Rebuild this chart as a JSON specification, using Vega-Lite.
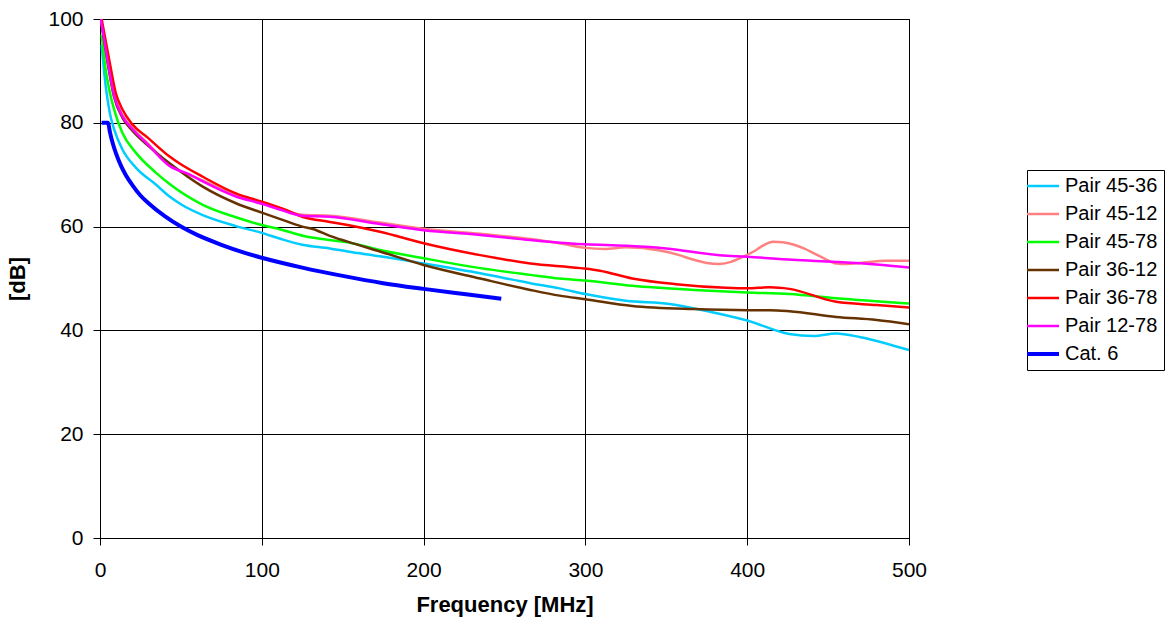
{
  "$schema": "https://vega.github.io/schema/vega-lite/v6.json",
  "width": 809,
  "height": 519,
  "autosize": {"type": "none"},
  "padding": {"left": 100, "top": 19, "right": 264, "bottom": 87},
  "background": "white",
  "config": {
    "font": "Liberation Sans",
    "view": {"stroke": "#000", "strokeWidth": 1},
    "axis": {
      "grid": true, "gridColor": "#000", "gridOpacity": 1, "gridWidth": 1,
      "domainColor": "#000", "domainWidth": 1, "tickColor": "#000", "tickSize": 7, "tickWidth": 1,
      "labelFont": "Liberation Sans", "labelFontSize": 21, "labelColor": "#000",
      "titleFont": "Liberation Sans", "titleFontSize": 22, "titleFontWeight": "bold", "titleColor": "#000"
    },
    "legend": {
      "orient": "none", "legendX": 927, "legendY": 151,
      "strokeColor": "#000", "fillColor": "#fff", "padding": 6, "cornerRadius": 0,
      "labelFont": "Liberation Sans", "labelFontSize": 20, "labelColor": "#000", "labelOffset": 12,
      "symbolType": "stroke", "symbolSize": 1024, "symbolStrokeWidth": 2.5, "rowPadding": 8
    }
  },
  "data": {"values": [
    {"series": "Pair 45-36", "f": 1, "dB": 95}, {"series": "Pair 45-36", "f": 3.5, "dB": 87.1}, {"series": "Pair 45-36", "f": 6, "dB": 82}, {"series": "Pair 45-36", "f": 8.7, "dB": 78.8}, {"series": "Pair 45-36", "f": 13.8, "dB": 74.9}, {"series": "Pair 45-36", "f": 22, "dB": 71.4}, {"series": "Pair 45-36", "f": 34.5, "dB": 68.1}, {"series": "Pair 45-36", "f": 43, "dB": 65.8}, {"series": "Pair 45-36", "f": 50, "dB": 64.3}, {"series": "Pair 45-36", "f": 63.5, "dB": 62.2}, {"series": "Pair 45-36", "f": 84, "dB": 60.1}, {"series": "Pair 45-36", "f": 100, "dB": 58.8}, {"series": "Pair 45-36", "f": 112, "dB": 57.6}, {"series": "Pair 45-36", "f": 125, "dB": 56.5}, {"series": "Pair 45-36", "f": 142, "dB": 55.8}, {"series": "Pair 45-36", "f": 153, "dB": 55.2}, {"series": "Pair 45-36", "f": 173, "dB": 54.3}, {"series": "Pair 45-36", "f": 200, "dB": 52.9}, {"series": "Pair 45-36", "f": 235, "dB": 51.0}, {"series": "Pair 45-36", "f": 266, "dB": 49.1}, {"series": "Pair 45-36", "f": 284, "dB": 48.1}, {"series": "Pair 45-36", "f": 300, "dB": 47.0}, {"series": "Pair 45-36", "f": 325, "dB": 45.7}, {"series": "Pair 45-36", "f": 352, "dB": 45.1}, {"series": "Pair 45-36", "f": 377, "dB": 43.6}, {"series": "Pair 45-36", "f": 400, "dB": 41.9}, {"series": "Pair 45-36", "f": 426, "dB": 39.3}, {"series": "Pair 45-36", "f": 441, "dB": 38.9}, {"series": "Pair 45-36", "f": 455, "dB": 39.4}, {"series": "Pair 45-36", "f": 470, "dB": 38.7}, {"series": "Pair 45-36", "f": 500, "dB": 36.2},

    {"series": "Pair 45-12", "f": 0.5, "dB": 100}, {"series": "Pair 45-12", "f": 4.5, "dB": 92.5}, {"series": "Pair 45-12", "f": 8.7, "dB": 85.4}, {"series": "Pair 45-12", "f": 13.8, "dB": 81.5}, {"series": "Pair 45-12", "f": 20, "dB": 79}, {"series": "Pair 45-12", "f": 29.3, "dB": 76.1}, {"series": "Pair 45-12", "f": 43, "dB": 71.9}, {"series": "Pair 45-12", "f": 63.5, "dB": 68.9}, {"series": "Pair 45-12", "f": 84, "dB": 66}, {"series": "Pair 45-12", "f": 100, "dB": 64.6}, {"series": "Pair 45-12", "f": 125, "dB": 62.3}, {"series": "Pair 45-12", "f": 142, "dB": 62.1}, {"series": "Pair 45-12", "f": 173, "dB": 60.8}, {"series": "Pair 45-12", "f": 200, "dB": 59.6}, {"series": "Pair 45-12", "f": 235, "dB": 58.6}, {"series": "Pair 45-12", "f": 266, "dB": 57.6}, {"series": "Pair 45-12", "f": 284, "dB": 56.8}, {"series": "Pair 45-12", "f": 300, "dB": 55.9}, {"series": "Pair 45-12", "f": 312, "dB": 55.7}, {"series": "Pair 45-12", "f": 325, "dB": 56.0}, {"series": "Pair 45-12", "f": 346, "dB": 55.4}, {"series": "Pair 45-12", "f": 357, "dB": 54.6}, {"series": "Pair 45-12", "f": 367, "dB": 53.6}, {"series": "Pair 45-12", "f": 375, "dB": 53.0}, {"series": "Pair 45-12", "f": 383, "dB": 52.8}, {"series": "Pair 45-12", "f": 390, "dB": 53.2}, {"series": "Pair 45-12", "f": 396, "dB": 54.0}, {"series": "Pair 45-12", "f": 404, "dB": 55.2}, {"series": "Pair 45-12", "f": 410, "dB": 56.4}, {"series": "Pair 45-12", "f": 416, "dB": 57.1}, {"series": "Pair 45-12", "f": 422, "dB": 57.0}, {"series": "Pair 45-12", "f": 428, "dB": 56.6}, {"series": "Pair 45-12", "f": 435, "dB": 55.8}, {"series": "Pair 45-12", "f": 441, "dB": 54.9}, {"series": "Pair 45-12", "f": 448, "dB": 53.8}, {"series": "Pair 45-12", "f": 455, "dB": 52.9}, {"series": "Pair 45-12", "f": 462, "dB": 52.8}, {"series": "Pair 45-12", "f": 470, "dB": 53.0}, {"series": "Pair 45-12", "f": 486, "dB": 53.4}, {"series": "Pair 45-12", "f": 500, "dB": 53.4},

    {"series": "Pair 45-78", "f": 1, "dB": 97}, {"series": "Pair 45-78", "f": 3.5, "dB": 90.3}, {"series": "Pair 45-78", "f": 6, "dB": 86}, {"series": "Pair 45-78", "f": 8.7, "dB": 82.6}, {"series": "Pair 45-78", "f": 13.8, "dB": 78.1}, {"series": "Pair 45-78", "f": 22, "dB": 74.3}, {"series": "Pair 45-78", "f": 34.5, "dB": 70.4}, {"series": "Pair 45-78", "f": 43, "dB": 68.2}, {"series": "Pair 45-78", "f": 63.5, "dB": 64.2}, {"series": "Pair 45-78", "f": 84, "dB": 61.8}, {"series": "Pair 45-78", "f": 100, "dB": 60.3}, {"series": "Pair 45-78", "f": 111, "dB": 59.5}, {"series": "Pair 45-78", "f": 126, "dB": 58.2}, {"series": "Pair 45-78", "f": 142, "dB": 57.4}, {"series": "Pair 45-78", "f": 153, "dB": 57.0}, {"series": "Pair 45-78", "f": 173, "dB": 55.5}, {"series": "Pair 45-78", "f": 200, "dB": 53.9}, {"series": "Pair 45-78", "f": 235, "dB": 52.0}, {"series": "Pair 45-78", "f": 266, "dB": 50.7}, {"series": "Pair 45-78", "f": 284, "dB": 50.0}, {"series": "Pair 45-78", "f": 300, "dB": 49.6}, {"series": "Pair 45-78", "f": 329, "dB": 48.6}, {"series": "Pair 45-78", "f": 367, "dB": 47.8}, {"series": "Pair 45-78", "f": 400, "dB": 47.3}, {"series": "Pair 45-78", "f": 426, "dB": 47.0}, {"series": "Pair 45-78", "f": 455, "dB": 46.2}, {"series": "Pair 45-78", "f": 500, "dB": 45.2},

    {"series": "Pair 36-12", "f": 1, "dB": 99}, {"series": "Pair 36-12", "f": 4.5, "dB": 92}, {"series": "Pair 36-12", "f": 8.7, "dB": 85}, {"series": "Pair 36-12", "f": 13.8, "dB": 81}, {"series": "Pair 36-12", "f": 20, "dB": 78.5}, {"series": "Pair 36-12", "f": 29.3, "dB": 75.7}, {"series": "Pair 36-12", "f": 43, "dB": 72.2}, {"series": "Pair 36-12", "f": 63.5, "dB": 67.7}, {"series": "Pair 36-12", "f": 84, "dB": 64.5}, {"series": "Pair 36-12", "f": 100, "dB": 62.7}, {"series": "Pair 36-12", "f": 111, "dB": 61.5}, {"series": "Pair 36-12", "f": 125, "dB": 60.0}, {"series": "Pair 36-12", "f": 132, "dB": 59.5}, {"series": "Pair 36-12", "f": 142, "dB": 58.2}, {"series": "Pair 36-12", "f": 153, "dB": 57.1}, {"series": "Pair 36-12", "f": 173, "dB": 55.2}, {"series": "Pair 36-12", "f": 200, "dB": 52.6}, {"series": "Pair 36-12", "f": 235, "dB": 50.0}, {"series": "Pair 36-12", "f": 266, "dB": 47.8}, {"series": "Pair 36-12", "f": 284, "dB": 46.7}, {"series": "Pair 36-12", "f": 300, "dB": 46.0}, {"series": "Pair 36-12", "f": 329, "dB": 44.7}, {"series": "Pair 36-12", "f": 367, "dB": 44.1}, {"series": "Pair 36-12", "f": 400, "dB": 43.9}, {"series": "Pair 36-12", "f": 414, "dB": 43.9}, {"series": "Pair 36-12", "f": 426, "dB": 43.7}, {"series": "Pair 36-12", "f": 455, "dB": 42.6}, {"series": "Pair 36-12", "f": 480, "dB": 42.0}, {"series": "Pair 36-12", "f": 500, "dB": 41.2},

    {"series": "Pair 36-78", "f": 1, "dB": 100}, {"series": "Pair 36-78", "f": 5.6, "dB": 92.3}, {"series": "Pair 36-78", "f": 9.7, "dB": 85.8}, {"series": "Pair 36-78", "f": 13.8, "dB": 82.6}, {"series": "Pair 36-78", "f": 20, "dB": 79.7}, {"series": "Pair 36-78", "f": 29.3, "dB": 77.2}, {"series": "Pair 36-78", "f": 43, "dB": 73.5}, {"series": "Pair 36-78", "f": 49, "dB": 72.2}, {"series": "Pair 36-78", "f": 63.5, "dB": 69.6}, {"series": "Pair 36-78", "f": 84, "dB": 66.4}, {"series": "Pair 36-78", "f": 100, "dB": 64.8}, {"series": "Pair 36-78", "f": 115, "dB": 63.2}, {"series": "Pair 36-78", "f": 125, "dB": 61.9}, {"series": "Pair 36-78", "f": 142, "dB": 60.9}, {"series": "Pair 36-78", "f": 153, "dB": 60.3}, {"series": "Pair 36-78", "f": 173, "dB": 59.0}, {"series": "Pair 36-78", "f": 200, "dB": 56.8}, {"series": "Pair 36-78", "f": 235, "dB": 54.5}, {"series": "Pair 36-78", "f": 266, "dB": 52.9}, {"series": "Pair 36-78", "f": 297, "dB": 52.0}, {"series": "Pair 36-78", "f": 309, "dB": 51.5}, {"series": "Pair 36-78", "f": 329, "dB": 50.0}, {"series": "Pair 36-78", "f": 356, "dB": 48.9}, {"series": "Pair 36-78", "f": 387, "dB": 48.2}, {"series": "Pair 36-78", "f": 400, "dB": 48.1}, {"series": "Pair 36-78", "f": 414, "dB": 48.3}, {"series": "Pair 36-78", "f": 426, "dB": 48.0}, {"series": "Pair 36-78", "f": 455, "dB": 45.5}, {"series": "Pair 36-78", "f": 480, "dB": 44.9}, {"series": "Pair 36-78", "f": 500, "dB": 44.4},

    {"series": "Pair 12-78", "f": 0.5, "dB": 100}, {"series": "Pair 12-78", "f": 4.5, "dB": 92.3}, {"series": "Pair 12-78", "f": 8.7, "dB": 85.2}, {"series": "Pair 12-78", "f": 13.8, "dB": 81.3}, {"series": "Pair 12-78", "f": 20, "dB": 78.8}, {"series": "Pair 12-78", "f": 29.3, "dB": 75.9}, {"series": "Pair 12-78", "f": 43, "dB": 71.7}, {"series": "Pair 12-78", "f": 55, "dB": 70.1}, {"series": "Pair 12-78", "f": 63.5, "dB": 68.7}, {"series": "Pair 12-78", "f": 84, "dB": 65.8}, {"series": "Pair 12-78", "f": 100, "dB": 64.4}, {"series": "Pair 12-78", "f": 111, "dB": 63.3}, {"series": "Pair 12-78", "f": 125, "dB": 62.1}, {"series": "Pair 12-78", "f": 142, "dB": 61.9}, {"series": "Pair 12-78", "f": 173, "dB": 60.5}, {"series": "Pair 12-78", "f": 200, "dB": 59.3}, {"series": "Pair 12-78", "f": 235, "dB": 58.4}, {"series": "Pair 12-78", "f": 266, "dB": 57.4}, {"series": "Pair 12-78", "f": 284, "dB": 56.9}, {"series": "Pair 12-78", "f": 300, "dB": 56.6}, {"series": "Pair 12-78", "f": 325, "dB": 56.3}, {"series": "Pair 12-78", "f": 350, "dB": 55.8}, {"series": "Pair 12-78", "f": 383, "dB": 54.5}, {"series": "Pair 12-78", "f": 400, "dB": 54.2}, {"series": "Pair 12-78", "f": 428, "dB": 53.6}, {"series": "Pair 12-78", "f": 455, "dB": 53.2}, {"series": "Pair 12-78", "f": 480, "dB": 52.7}, {"series": "Pair 12-78", "f": 500, "dB": 52.1},

    {"series": "Cat. 6", "f": 1, "dB": 80}, {"series": "Cat. 6", "f": 5, "dB": 80}, {"series": "Cat. 6", "f": 6, "dB": 78.4}, {"series": "Cat. 6", "f": 8, "dB": 75.9}, {"series": "Cat. 6", "f": 10, "dB": 74}, {"series": "Cat. 6", "f": 13, "dB": 71.7}, {"series": "Cat. 6", "f": 16, "dB": 69.9}, {"series": "Cat. 6", "f": 20, "dB": 68}, {"series": "Cat. 6", "f": 25, "dB": 66}, {"series": "Cat. 6", "f": 30, "dB": 64.5}, {"series": "Cat. 6", "f": 40, "dB": 62}, {"series": "Cat. 6", "f": 50, "dB": 60}, {"series": "Cat. 6", "f": 60, "dB": 58.4}, {"series": "Cat. 6", "f": 75, "dB": 56.5}, {"series": "Cat. 6", "f": 90, "dB": 54.9}, {"series": "Cat. 6", "f": 100, "dB": 54}, {"series": "Cat. 6", "f": 125, "dB": 52.1}, {"series": "Cat. 6", "f": 150, "dB": 50.5}, {"series": "Cat. 6", "f": 175, "dB": 49.1}, {"series": "Cat. 6", "f": 200, "dB": 48}, {"series": "Cat. 6", "f": 225, "dB": 47}, {"series": "Cat. 6", "f": 248, "dB": 46.1}
  ]},
  "encoding": {
    "x": {"field": "f", "type": "quantitative", "scale": {"domain": [0, 500], "nice": false},
      "axis": {"values": [0, 100, 200, 300, 400, 500], "title": "Frequency [MHz]", "labelPadding": 14, "titlePadding": 14, "labelFlush": false}},
    "y": {"field": "dB", "type": "quantitative", "scale": {"domain": [0, 100], "nice": false},
      "axis": {"values": [0, 20, 40, 60, 80, 100], "title": "[dB]", "labelPadding": 10, "titlePadding": 18}},
    "color": {"field": "series", "type": "nominal",
      "scale": {"domain": ["Pair 45-36", "Pair 45-12", "Pair 45-78", "Pair 36-12", "Pair 36-78", "Pair 12-78", "Cat. 6"],
                "range": ["#00CCFF", "#FF8080", "#00FF00", "#663300", "#FF0000", "#FF00FF", "#0000FF"]},
      "legend": {"title": null,
        "encode": {"symbols": {"update": {"strokeWidth": {"signal": "datum.label === 'Cat. 6' ? 4 : 2.5"}}}}}}
  },
  "layer": [
    {"transform": [{"filter": "datum.series !== 'Cat. 6'"}],
     "mark": {"type": "line", "interpolate": "monotone", "clip": true, "strokeWidth": 2.5}},
    {"transform": [{"filter": "datum.series === 'Cat. 6'"}],
     "mark": {"type": "line", "interpolate": "monotone", "clip": true, "strokeWidth": 4}}
  ]
}
